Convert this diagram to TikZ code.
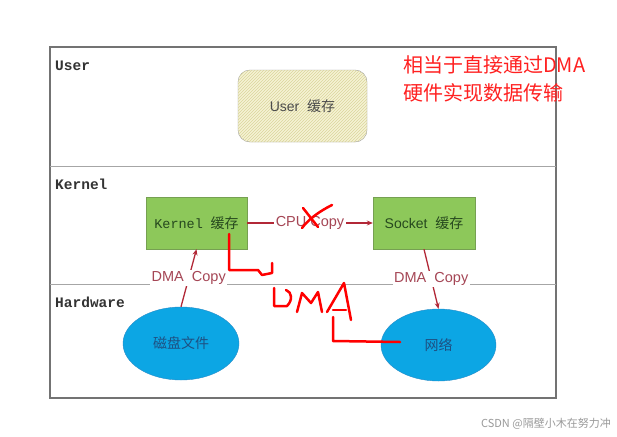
\documentclass[tikz,border=0pt]{standalone}
\usepackage{fontspec}
\setmainfont{Liberation Sans}
\setmonofont{Liberation Mono}
\newfontfamily\cjk{Noto Sans CJK SC}
\usetikzlibrary{arrows.meta,patterns,shapes.geometric}

\definecolor{arrowred}{RGB}{178,40,55}
\definecolor{labelred}{RGB}{165,70,85}
\definecolor{kgreen}{RGB}{141,200,90}
\definecolor{kborder}{RGB}{118,160,82}
\definecolor{kblue}{RGB}{12,166,228}
\definecolor{bborder}{RGB}{40,140,200}
\definecolor{penred}{RGB}{255,0,0}
\definecolor{notered}{RGB}{255,32,32}

\tikzset{
	layer/.style={anchor=west,inner sep=0pt,font=\fontsize{14.5}{16}\selectfont\ttfamily\bfseries,text=black!80},
	userbuf/.style={draw=black!40,rounded corners=12pt,fill={rgb,255:red,246;green,243;blue,212},
		postaction={pattern=north east lines,pattern color={rgb,255:red,218;green,213;blue,155}},
		minimum width=129pt,minimum height=72pt,font=\fontsize{14}{16}\selectfont,text=black!70},
	buffer/.style={draw=kborder,fill=kgreen,minimum width=101pt,minimum height=52pt,
		font=\fontsize{14}{16}\selectfont,text={rgb,255:red,38;green,72;blue,30}},
	device/.style={ellipse,draw=bborder,fill=kblue,minimum width=116pt,minimum height=73pt,
		font=\fontsize{14}{16}\selectfont\cjk,text={rgb,255:red,30;green,80;blue,130}},
	copyarrow/.style={draw=arrowred,line width=1.3pt,-{Stealth[length=6pt,width=5pt]}},
	copylabel/.style={fill=white,inner sep=1.5pt,text=labelred,font=\fontsize{14.5}{16}\selectfont},
	pen/.style={draw=penred,line width=2.5pt,line cap=round,line join=round},
	note/.style={anchor=west,inner sep=0pt,text=notered,font=\fontsize{20}{24}\selectfont\cjk}
}

\begin{document}
\begin{tikzpicture}[x=1pt,y=-1pt]
	
	\useasboundingbox[fill=white] (0,0) rectangle (617,436);
	
	\draw[black!55,line width=1.4pt] (50,47) rectangle (556,398);
	\draw[black!35,line width=1pt] (50,166) -- (556,166);
	\draw[black!35,line width=1pt] (50,284) -- (556,284);
	
	\node[layer] (usr) at (55,66) {User};
	\node[layer] (krn) at (55,184) {Kernel};
	\node[layer] (hw) at (55,302) {Hardware};
	
	\node[userbuf] (ubuf) at (302.5,106) {User\ \ {\cjk 缓存}};
	\node[buffer] (kbuf) at (196.5,223) {{\ttfamily\fontsize{13.5}{15}\selectfont Kernel}\ \ {\cjk 缓存}};
	\node[buffer,minimum width=102pt] (sbuf) at (424,223) {Socket\ \ {\cjk 缓存}};
	\node[device] (disk) at (181,343.5) {磁盘文件};
	\node[device,minimum width=115pt,minimum height=72pt] (net) at (438.5,345) {网络};
	
	\draw[copyarrow] (kbuf) -- node[copylabel] {CPU Copy} (sbuf);
	\draw[copyarrow] (disk.north) -- node[copylabel] {DMA\ \ Copy} (kbuf.south);
	\draw[copyarrow] (sbuf.south) -- node[copylabel] {DMA\ \ Copy} (net.north);
	
	\draw[pen] (303,208) -- (318,227);
	\draw[pen] (332,205) .. controls (318,212) and (308,220) .. (302,228);
	
	\draw[pen] (229,234) -- (229,270) -- (258,270) -- (262,275) -- (272,273) -- (272,263);
	\draw[pen] (274,288) -- (274,306) -- (287,306) .. controls (293,300) and (292,292) .. (286,290);
	\draw[pen] (297,312) -- (302,293) -- (311,303) -- (318,292) -- (322,312);
	\draw[pen] (327,312) -- (344,283) -- (351,320);
	\draw[pen] (333,310) -- (346,310);
	\draw[pen] (333,317) -- (333,341) -- (400,342);
	
	\node[note] (n1) at (403,65) {相当于直接通过DMA};
	\node[note] (n2) at (403,93) {硬件实现数据传输};
	
	\node[anchor=east,inner sep=0pt,text=black!40,font=\fontsize{11}{13}\selectfont\cjk] (mark) at (611,424) {CSDN @隔壁小木在努力冲};
	
\end{tikzpicture}
\end{document}
